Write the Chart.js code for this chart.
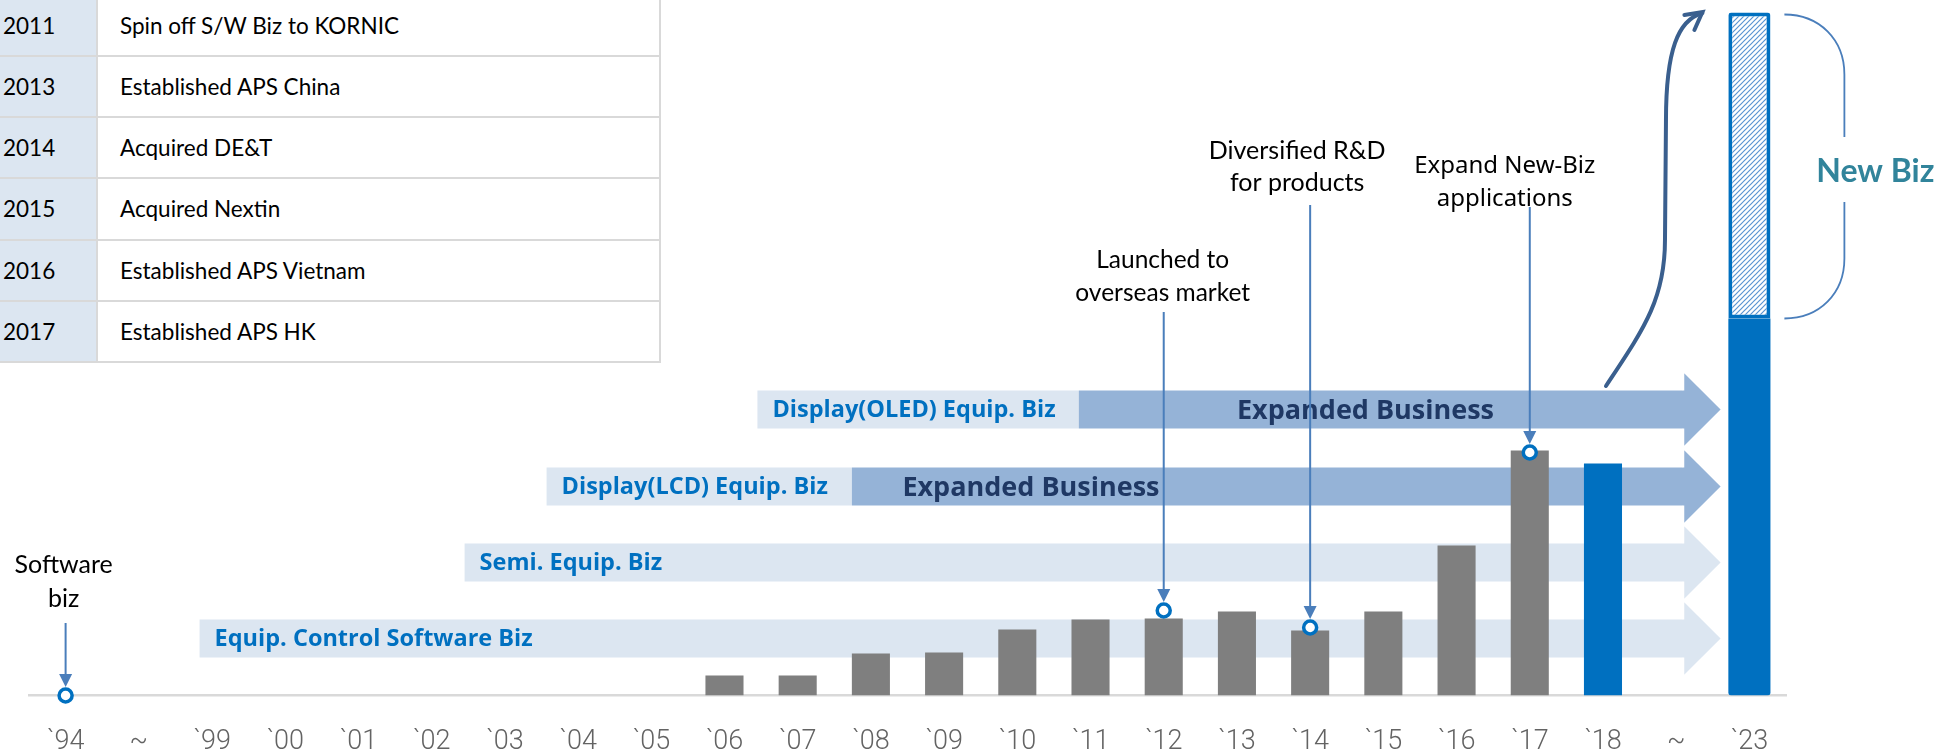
<!DOCTYPE html>
<html>
<head>
<meta charset="utf-8">
<script src="https://cdn.jsdelivr.net/npm/chart.js@4.4.1/dist/chart.umd.min.js"></script>
<style>
    html, body { margin: 0; padding: 0; background: #fff; }
    #wrap { position: relative; width: 1959px; height: 753px; overflow: hidden; }
    #chartBox { position: absolute; left: 0; top: 0; width: 1959px; height: 753px; }
    #history { position: absolute; left: 0; top: 0; width: 661px; font-family: Lato, sans-serif; font-size: 22.5px; color: #000; }
    #history .row { position: absolute; left: 0; width: 661px; height: 61.2px; display: flex; box-sizing: border-box;
        border-bottom: 2px solid #d9d9d9; border-right: 2px solid #d9d9d9; background: #fff; }
    #history .year { width: 98px; background: #dce6f1; border-right: 2px solid #d9d9d9; padding-left: 3px;
        box-sizing: border-box; display: flex; align-items: center; }
    #history .event { padding-left: 22px; display: flex; align-items: center; }
</style>
</head>
<body>
<div id="wrap">
    <div id="chartBox"><canvas id="growthChart"></canvas></div>
    <div id="history"></div>
</div>
<script>
// x axis categories
const categories = ['`94', '~', '`99', '`00', '`01', '`02', '`03', '`04', '`05', '`06', '`07', '`08',
    '`09', '`10', '`11', '`12', '`13', '`14', '`15', '`16', '`17', '`18', '~', '`23'];

// bar heights (relative units)
const salesHistory = [null, null, null, null, null, null, null, null, null, 20, 20, 42,
    43, 66, 76, 77, 84, 65, 84, 150, 245, null, null, null];
const sales2018 = [null, null, null, null, null, null, null, null, null, null, null, null,
    null, null, null, null, null, null, null, null, null, 232, null, null];
const target2023Core = [null, null, null, null, null, null, null, null, null, null, null, null,
    null, null, null, null, null, null, null, null, null, null, null, 377];
const target2023NewBiz = [null, null, null, null, null, null, null, null, null, null, null, null,
    null, null, null, null, null, null, null, null, null, null, null, 306];

// open circle milestones
const milestoneValues = [0, null, null, null, null, null, null, null, null, null, null, null,
    null, null, null, 85, null, 68, null, null, 243, null, null, null];

// company history table
const historyYears = ['2011', '2013', '2014', '2015', '2016', '2017'];
const historyEvents = ['Spin off S/W Biz to KORNIC', 'Established APS China', 'Acquired DE&T',
    'Acquired Nextin', 'Established APS Vietnam', 'Established APS HK'];

// business lines: start / expansion given as category index, level on the value axis
const businessLines = [
    { name: 'Equip. Control Software Biz', start: 1.83, level: 57 },
    { name: 'Semi. Equip. Biz', start: 5.45, level: 133 },
    { name: 'Display(LCD) Equip. Biz', start: 6.57, expandFrom: 10.74, textAt: 11.43, level: 209 },
    { name: 'Display(OLED) Equip. Biz', start: 9.45, expandFrom: 13.84, textAt: 16.0, level: 286 }
];
const arrowBase = 22.1;
const arrowTip = 22.62;

const callouts = [
    { index: 0, lines: ['Software', 'biz'], dx: -2, baselines: [573, 607], lineTop: 623, font: '25px Lato' },
    { index: 15, lines: ['Launched to', 'overseas market'], dx: -1, baselines: [268, 301], lineTop: 312, font: '24.5px Lato' },
    { index: 17, lines: ['Diversified R&D', 'for products'], dx: -13, baselines: [159, 191], lineTop: 205, font: '25px Lato' },
    { index: 20, lines: ['Expand New-Biz', 'applications'], dx: -25, baselines: [173, 206], lineTop: 207, font: '24px "Noto Sans"' }
];

const LIGHT_BAND = '#dce6f1';
const DARK_BAND = '#95b3d7';
const BLUE = '#0070c0';
const LINE_BLUE = '#4a7ebb';

function buildHistoryTable() {
    const box = document.getElementById('history');
    historyYears.forEach((year, i) => {
        const row = document.createElement('div');
        row.className = 'row';
        row.style.top = (-4.2 + i * 61.2) + 'px';
        row.innerHTML = '<div class="year"></div><div class="event"></div>';
        row.children[0].textContent = year;
        row.children[1].textContent = historyEvents[i];
        box.appendChild(row);
    });
}

function makeHatch() {
    const c = document.createElement('canvas');
    c.width = 5;
    c.height = 5;
    const g = c.getContext('2d');
    g.fillStyle = '#fff';
    g.fillRect(0, 0, 5, 5);
    g.strokeStyle = '#5a94d2';
    g.lineWidth = 1.2;
    g.beginPath();
    g.moveTo(-1, 6); g.lineTo(6, -1);
    g.moveTo(-1, 1); g.lineTo(1, -1);
    g.moveTo(4, 6); g.lineTo(6, 4);
    g.stroke();
    return g.createPattern(c, 'repeat');
}

function drawBusinessLine(ctx, x, y, line) {
    const yc = y.getPixelForValue(line.level);
    const half = 19;
    const head = 38;
    const x0 = x.getPixelForValue(line.start);
    const xBase = x.getPixelForValue(arrowBase);
    const xTip = x.getPixelForValue(arrowTip);
    const xSplit = line.expandFrom !== undefined ? x.getPixelForValue(line.expandFrom) : xBase;
    const headColor = line.expandFrom !== undefined ? DARK_BAND : LIGHT_BAND;

    ctx.fillStyle = LIGHT_BAND;
    ctx.fillRect(x0, yc - half, xSplit - x0, half * 2);
    ctx.fillStyle = DARK_BAND;
    ctx.fillRect(xSplit, yc - half, xBase - xSplit, half * 2);

    ctx.beginPath();
    ctx.moveTo(xBase - 0.5, yc - half);
    ctx.lineTo(xBase, yc - head);
    ctx.lineTo(xTip, yc);
    ctx.lineTo(xBase, yc + head);
    ctx.lineTo(xBase - 0.5, yc + half);
    ctx.closePath();
    ctx.fillStyle = headColor;
    ctx.fill();
    ctx.beginPath();
    ctx.moveTo(xBase, yc - half);
    ctx.lineTo(xBase, yc - head);
    ctx.lineTo(xTip, yc);
    ctx.lineTo(xBase, yc + head);
    ctx.lineTo(xBase, yc + half);
    ctx.strokeStyle = '#fff';
    ctx.lineWidth = 1.5;
    ctx.stroke();

    ctx.textBaseline = 'middle';
    ctx.textAlign = 'left';
    ctx.fillStyle = BLUE;
    ctx.font = 'bold 23.5px "Open Sans"';
    ctx.fillText(line.name, x0 + 15, yc + 1);
    if (line.textAt !== undefined) {
        ctx.fillStyle = '#1f3864';
        ctx.font = 'bold 27px "Open Sans"';
        ctx.fillText('Expanded Business', x.getPixelForValue(line.textAt), yc + 2);
    }
}

function drawCallout(ctx, x, y, c) {
    const px = x.getPixelForValue(c.index);
    const tipY = y.getPixelForValue(milestoneValues[c.index]) - 8.5;
    ctx.strokeStyle = LINE_BLUE;
    ctx.lineWidth = 2;
    ctx.beginPath();
    ctx.moveTo(px, c.lineTop);
    ctx.lineTo(px, tipY - 12);
    ctx.stroke();
    ctx.fillStyle = LINE_BLUE;
    ctx.beginPath();
    ctx.moveTo(px - 6.5, tipY - 13);
    ctx.lineTo(px + 6.5, tipY - 13);
    ctx.lineTo(px, tipY);
    ctx.closePath();
    ctx.fill();

    ctx.fillStyle = '#000';
    ctx.font = c.font;
    ctx.textAlign = 'center';
    ctx.textBaseline = 'alphabetic';
    c.lines.forEach((t, i) => ctx.fillText(t, px + c.dx, c.baselines[i]));
}

function drawGrowthArrow(ctx, x) {
    const a = x.getPixelForValue(21);
    const b = x.getPixelForValue(23);
    ctx.strokeStyle = '#3a5f8e';
    ctx.lineWidth = 4;
    ctx.lineCap = 'round';
    ctx.beginPath();
    ctx.moveTo(a + 3, 386);
    ctx.bezierCurveTo(a + 40, 330, a + 62, 300, a + 62, 240);
    ctx.lineTo(a + 63, 120);
    ctx.bezierCurveTo(a + 63, 50, a + 75, 20, b - 47, 13);
    ctx.stroke();
    ctx.beginPath();
    ctx.moveTo(b - 65, 15);
    ctx.lineTo(b - 47, 12);
    ctx.lineTo(b - 55, 30);
    ctx.stroke();
    ctx.lineCap = 'butt';
}

function drawNewBizBrace(ctx, x, y) {
    const xL = x.getPixelForValue(23) + 35;
    const xR = xL + 60;
    const yTop = y.getPixelForValue(target2023Core[23] + target2023NewBiz[23]) + 2;
    const yBot = y.getPixelForValue(target2023Core[23]);
    ctx.strokeStyle = LINE_BLUE;
    ctx.lineWidth = 1.8;
    ctx.beginPath();
    ctx.moveTo(xL, yTop);
    ctx.bezierCurveTo(xL + 35, yTop, xR, yTop + 25, xR, yTop + 60);
    ctx.lineTo(xR, 137);
    ctx.moveTo(xR, 202);
    ctx.lineTo(xR, yBot - 60);
    ctx.bezierCurveTo(xR, yBot - 25, xL + 35, yBot, xL, yBot);
    ctx.stroke();

    ctx.fillStyle = '#31849b';
    ctx.font = 'bold 32px Lato';
    ctx.textAlign = 'center';
    ctx.textBaseline = 'alphabetic';
    ctx.fillText('New Biz', xR + 31, 182);
}

const decorations = {
    id: 'decorations',
    beforeDatasetsDraw(chart) {
        const { ctx, scales: { x, y } } = chart;
        ctx.save();
        businessLines.forEach(line => drawBusinessLine(ctx, x, y, line));
        ctx.restore();
    },
    afterDatasetsDraw(chart) {
        const { ctx, scales: { x, y } } = chart;
        ctx.save();
        callouts.forEach(c => drawCallout(ctx, x, y, c));
        drawGrowthArrow(ctx, x);
        drawNewBizBrace(ctx, x, y);
        ctx.restore();
    }
};

function renderChart() {
    const ctx = document.getElementById('growthChart').getContext('2d');
    new Chart(ctx, {
        type: 'bar',
        data: {
            labels: categories,
            datasets: [
                {
                    type: 'line',
                    label: 'Milestones',
                    data: milestoneValues,
                    showLine: false,
                    pointStyle: 'circle',
                    pointRadius: 6.5,
                    pointBorderWidth: 3.5,
                    pointBorderColor: BLUE,
                    pointBackgroundColor: '#fff',
                    clip: false,
                    stack: 'milestones',
                    order: 0
                },
                {
                    label: 'Sales',
                    data: salesHistory,
                    backgroundColor: '#7f7f7f',
                    barPercentage: 0.52,
                    categoryPercentage: 1,
                    stack: 'sales',
                    order: 1
                },
                {
                    label: '2018',
                    data: sales2018,
                    backgroundColor: BLUE,
                    barPercentage: 0.52,
                    categoryPercentage: 1,
                    stack: 'sales',
                    order: 1
                },
                {
                    label: '2023 target',
                    data: target2023Core,
                    backgroundColor: BLUE,
                    barPercentage: 0.575,
                    categoryPercentage: 1,
                    borderRadius: { bottomLeft: 3, bottomRight: 3 },
                    borderSkipped: false,
                    stack: 'sales',
                    order: 1
                },
                {
                    label: 'New Biz',
                    data: target2023NewBiz,
                    backgroundColor: makeHatch(),
                    borderColor: BLUE,
                    borderWidth: 4,
                    borderSkipped: false,
                    borderRadius: { topLeft: 3, topRight: 3 },
                    barPercentage: 0.575,
                    categoryPercentage: 1,
                    stack: 'sales',
                    order: 1
                }
            ]
        },
        options: {
            responsive: true,
            maintainAspectRatio: false,
            animation: false,
            layout: { autoPadding: false, padding: { left: 29, right: 173, top: 0, bottom: 0 } },
            plugins: {
                legend: { display: false },
                tooltip: { enabled: false }
            },
            scales: {
                x: {
                    stacked: true,
                    grid: { display: false, drawTicks: false },
                    border: { display: true, color: '#d9d9d9', width: 2.5 },
                    ticks: {
                        autoSkip: false,
                        maxRotation: 0,
                        color: '#636363',
                        padding: 31.5,
                        font: { family: 'Roboto, sans-serif', size: 27, weight: '300', lineHeight: 1.1 }
                    },
                    afterFit(scale) {
                        // keep the axis strip the same height as in the picture
                        scale.height = 57.5;
                    }
                },
                y: {
                    stacked: true,
                    display: false,
                    min: 0,
                    max: 695.5
                }
            }
        },
        plugins: [decorations]
    });
}

buildHistoryTable();
renderChart();
</script>
</body>
</html>
